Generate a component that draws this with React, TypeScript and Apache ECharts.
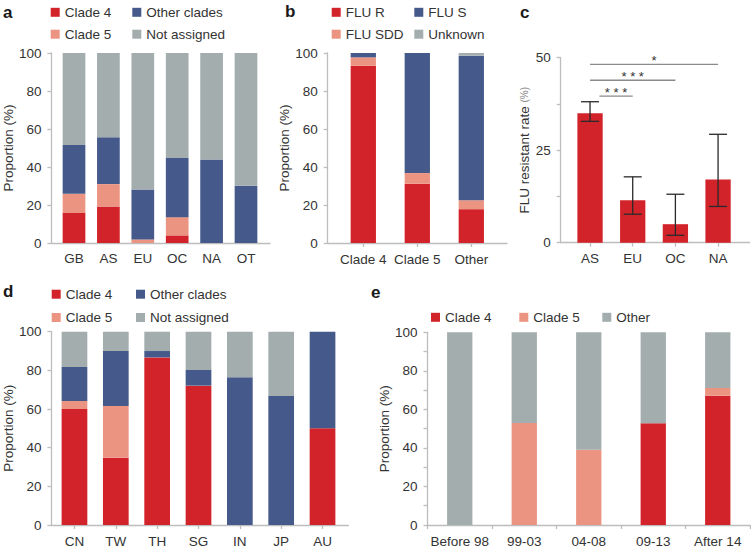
import React, { useEffect, useRef } from 'react';
import * as echarts from 'echarts';

const RED = '#D2232A';
const SALMON = '#EC9482';
const BLUE = '#455A8A';
const GRAY = '#A3ADAE';
const AXIS = '#BDBDBD';
const TXT = '#333333';
const FONT = 'Liberation Sans, Arial, sans-serif';
const FS = 13.5;

// Panel a
const regionCats = ['GB', 'AS', 'EU', 'OC', 'NA', 'OT'];
const regionClade4 = [15.8, 19.2, 0, 4.0, 0, 0];
const regionClade5 = [10.1, 11.8, 1.9, 9.6, 0, 0];
const regionOtherClades = [25.7, 24.6, 26.3, 31.1, 44.0, 30.1];
const regionNotAssigned = [48.4, 44.4, 71.8, 55.3, 56.0, 69.9];

// Panel b
const fluCats = ['Clade 4', 'Clade 5', 'Other'];
const fluR = [93.3, 31.2, 17.8];
const fluSDD = [4.4, 5.6, 4.7];
const fluS = [2.3, 63.2, 76.1];
const fluUnknown = [0, 0, 1.4];

// Panel c
const rateCats = ['AS', 'EU', 'OC', 'NA'];
const rateValues = [35.0, 11.5, 5.0, 17.1];
const rateLower = [32.8, 7.7, 2.0, 9.8];
const rateUpper = [38.1, 17.8, 13.1, 29.3];
const sigFrom = [0, 0, 0.22];
const sigTo = [3, 2, 1];
const sigY = [48.2, 43.9, 39.6];
const sigLabels = ['*', '* * *', '* * *'];

// Panel d
const countryCats = ['CN', 'TW', 'TH', 'SG', 'IN', 'JP', 'AU'];
const countryClade4 = [60.0, 34.8, 86.7, 72.1, 0, 0, 50.0];
const countryClade5 = [4.1, 26.8, 0, 0, 0, 0, 0];
const countryOtherClades = [17.6, 28.4, 3.3, 8.1, 76.4, 66.7, 50.0];
const countryNotAssigned = [18.3, 10.0, 10.0, 19.8, 23.6, 33.3, 0];

// Panel e
const periodCats = ['Before 98', '99-03', '04-08', '09-13', 'After 14'];
const periodClade4 = [0, 0, 0, 52.8, 67.1];
const periodClade5 = [0, 52.9, 39.1, 0, 4.0];
const periodOther = [100, 47.1, 60.9, 47.2, 28.9];

const axisLine = { show: true, lineStyle: { color: AXIS, width: 1.3 } };
const tickStyle = { show: true, length: 4, lineStyle: { color: AXIS, width: 1.3 } };
const labelStyle = { fontSize: FS, color: TXT, fontFamily: FONT };

function frameAxes(gi: number, max: number, interval: number, name: any, nameGap: number, showEvery: number, rich?: any) {
  const x = {
    type: 'value', gridIndex: gi, min: 0, max: 1,
    axisLine, axisTick: { show: false }, axisLabel: { show: false }, splitLine: { show: false },
  };
  const y: any = {
    type: 'value', gridIndex: gi, min: 0, max, interval,
    axisLine, axisTick: tickStyle,
    axisLabel: {
      ...labelStyle, margin: 10,
      formatter: (v: number) => (Math.abs(v / showEvery - Math.round(v / showEvery)) < 1e-6 ? String(v) : ''),
    },
    splitLine: { show: false },
    name, nameLocation: 'middle', nameGap,
    nameTextStyle: { fontSize: FS, color: TXT, fontFamily: FONT, rich },
  };
  return { x, y };
}

function barAxes(gi: number, cats: string[], max: number, ticks: boolean, margin: number) {
  const x = {
    type: 'category', gridIndex: gi, data: cats,
    axisLine: { show: false },
    axisTick: { ...tickStyle, show: ticks, alignWithLabel: true },
    axisLabel: { ...labelStyle, margin, interval: 0 },
    splitLine: { show: false },
  };
  const y = { type: 'value', gridIndex: gi, min: 0, max, show: false };
  return { x, y };
}

function bar(name: string, color: string, data: number[], axis: number, stack: string, width: number) {
  return {
    type: 'bar', name, data, stack, xAxisIndex: axis, yAxisIndex: axis, barWidth: width,
    itemStyle: { color }, emphasis: { disabled: true },
  };
}

function leg(name: string, x: number, yc: number) {
  return {
    left: x, top: yc - 7.5, padding: 0, itemWidth: 9, itemHeight: 9, itemGap: 0,
    icon: 'rect', data: [name], selectedMode: false,
    textStyle: { fontSize: FS, color: TXT, fontFamily: FONT },
  };
}

function letter(t: string, x: number, y: number) {
  return {
    type: 'text', x, y,
    style: { text: t, font: `bold 17px ${FONT}`, fill: '#1a1a1a', verticalAlign: 'middle' },
  };
}

export default function App() {
  const ref = useRef<HTMLDivElement>(null);
  useEffect(() => {
    if (!ref.current) return;
    const chart = echarts.init(ref.current, undefined, { renderer: 'svg' });

    const grids = [
      { left: 51, top: 53, width: 219, height: 190 },        // 0 a frame
      { left: 56.8, top: 53, width: 206.4, height: 190 },    // 1 a bars
      { left: 327.7, top: 53, width: 179.3, height: 190 },   // 2 b frame
      { left: 336.3, top: 53, width: 162, height: 190 },     // 3 b bars
      { left: 560.7, top: 57.7, width: 189, height: 185 },   // 4 c frame
      { left: 568.7, top: 57.7, width: 170.7, height: 185 }, // 5 c bars
      { left: 49.3, top: 331.7, width: 299, height: 193.3 }, // 6 d frame
      { left: 53.8, top: 331.7, width: 289.4, height: 193.3 },// 7 d bars
      { left: 427.5, top: 332.3, width: 322.5, height: 192.7 }, // 8 e
    ];

    const aF = frameAxes(0, 100, 20, 'Proportion (%)', 31, 20);
    const aB = barAxes(1, regionCats, 100, false, 8);
    const bF = frameAxes(2, 100, 20, 'Proportion (%)', 29, 20);
    const bB = barAxes(3, fluCats, 100, true, 9);
    const cF = frameAxes(4, 50, 12.5, '{a|FLU resistant rate }{b|(%)}', 29, 25, {
      a: { fontSize: FS, color: TXT, fontFamily: FONT },
      b: { fontSize: 10, color: '#888', fontFamily: FONT },
    });
    const cB = barAxes(5, rateCats, 50, true, 9);
    const dF = frameAxes(6, 100, 20, 'Proportion (%)', 31, 20);
    const dB = barAxes(7, countryCats, 100, true, 9);
    const eF = frameAxes(8, 100, 10, 'Proportion (%)', 31, 20);
    const eX = {
      type: 'category', gridIndex: 8, data: periodCats, axisLine,
      axisTick: { ...tickStyle, alignWithLabel: false },
      axisLabel: { ...labelStyle, margin: 9, interval: 0 },
      splitLine: { show: false },
    };

    const errorSeries = {
      type: 'custom', xAxisIndex: 5, yAxisIndex: 5, z: 5,
      data: rateCats.map((_, i) => [i, rateLower[i], rateUpper[i]]),
      renderItem: (params: any, api: any) => {
        const i = api.value(0);
        const lo = api.coord([i, api.value(1)]);
        const hi = api.coord([i, api.value(2)]);
        const hw = 9;
        const st = { stroke: '#2a2a2a', lineWidth: 1.3 };
        return {
          type: 'group',
          children: [
            { type: 'line', shape: { x1: lo[0], y1: lo[1], x2: hi[0], y2: hi[1] }, style: st },
            { type: 'line', shape: { x1: lo[0] - hw, y1: lo[1], x2: lo[0] + hw, y2: lo[1] }, style: st },
            { type: 'line', shape: { x1: hi[0] - hw, y1: hi[1], x2: hi[0] + hw, y2: hi[1] }, style: st },
          ],
        };
      },
    };

    const sigSeries = {
      type: 'custom', xAxisIndex: 5, yAxisIndex: 5, z: 6,
      data: sigY.map((y, i) => [i, y]),
      renderItem: (params: any, api: any) => {
        const k = params.dataIndex;
        const p0 = api.coord([0, sigY[k]]);
        const p1 = api.coord([1, sigY[k]]);
        const step = p1[0] - p0[0];
        const x1 = p0[0] + sigFrom[k] * step;
        const x2 = p0[0] + sigTo[k] * step;
        const y = p0[1];
        return {
          type: 'group',
          children: [
            { type: 'line', shape: { x1, y1: y, x2, y2: y }, style: { stroke: '#8a8a8a', lineWidth: 1.3 } },
            {
              type: 'text', x: (x1 + x2) / 2, y: y + 3,
              style: { text: sigLabels[k], fill: TXT, font: `13px ${FONT}`, align: 'center', verticalAlign: 'bottom' },
            },
          ],
        };
      },
    };

    const option: any = {
      animation: false,
      backgroundColor: '#ffffff',
      textStyle: { fontFamily: FONT },
      grid: grids,
      xAxis: [aF.x, aB.x, bF.x, bB.x, cF.x, cB.x, dF.x, dB.x, eX],
      yAxis: [aF.y, aB.y, bF.y, bB.y, cF.y, cB.y, dF.y, dB.y, eF.y],
      legend: [
        leg('Clade 4', 50.7, 12.8), leg('Other clades', 132.3, 12.8),
        leg('Clade 5', 50.7, 34.7), leg('Not assigned', 132.3, 34.7),
        leg('FLU R', 331.7, 12.8), leg('FLU S', 414.3, 12.8),
        leg('FLU SDD', 331.7, 34.7), leg('Unknown', 414.3, 34.7),
        leg('Clade 4', 51.7, 294.7), leg('Other clades', 136, 294.7),
        leg('Clade 5', 51.7, 318), leg('Not assigned', 136, 318),
        leg('Clade 4', 431, 317.8), leg('Clade 5', 519.3, 317.8), leg('Other', 602.3, 317.8),
      ],
      series: [
        bar('Clade 4', RED, regionClade4, 1, 'a', 22.7),
        bar('Clade 5', SALMON, regionClade5, 1, 'a', 22.7),
        bar('Other clades', BLUE, regionOtherClades, 1, 'a', 22.7),
        bar('Not assigned', GRAY, regionNotAssigned, 1, 'a', 22.7),

        bar('FLU R', RED, fluR, 3, 'b', 25.3),
        bar('FLU SDD', SALMON, fluSDD, 3, 'b', 25.3),
        bar('FLU S', BLUE, fluS, 3, 'b', 25.3),
        bar('Unknown', GRAY, fluUnknown, 3, 'b', 25.3),

        { ...bar('FLU resistant rate', RED, rateValues, 5, 'c', 25.3) },
        errorSeries,
        sigSeries,

        bar('Clade 4', RED, countryClade4, 7, 'd', 25.7),
        bar('Clade 5', SALMON, countryClade5, 7, 'd', 25.7),
        bar('Other clades', BLUE, countryOtherClades, 7, 'd', 25.7),
        bar('Not assigned', GRAY, countryNotAssigned, 7, 'd', 25.7),

        bar('Clade 4', RED, periodClade4, 8, 'e', 25.3),
        bar('Clade 5', SALMON, periodClade5, 8, 'e', 25.3),
        bar('Other', GRAY, periodOther, 8, 'e', 25.3),
      ],
      graphic: [
        letter('a', 3, 12.5),
        letter('b', 285, 11),
        letter('c', 520, 12.5),
        letter('d', 3, 291),
        letter('e', 371, 292.5),
      ],
    };

    chart.setOption(option);
    return () => chart.dispose();
  }, []);

  return (
    <div
      ref={ref}
      style={{ position: 'fixed', left: 0, top: 0, width: 751, height: 551, background: '#fff' }}
    />
  );
}
